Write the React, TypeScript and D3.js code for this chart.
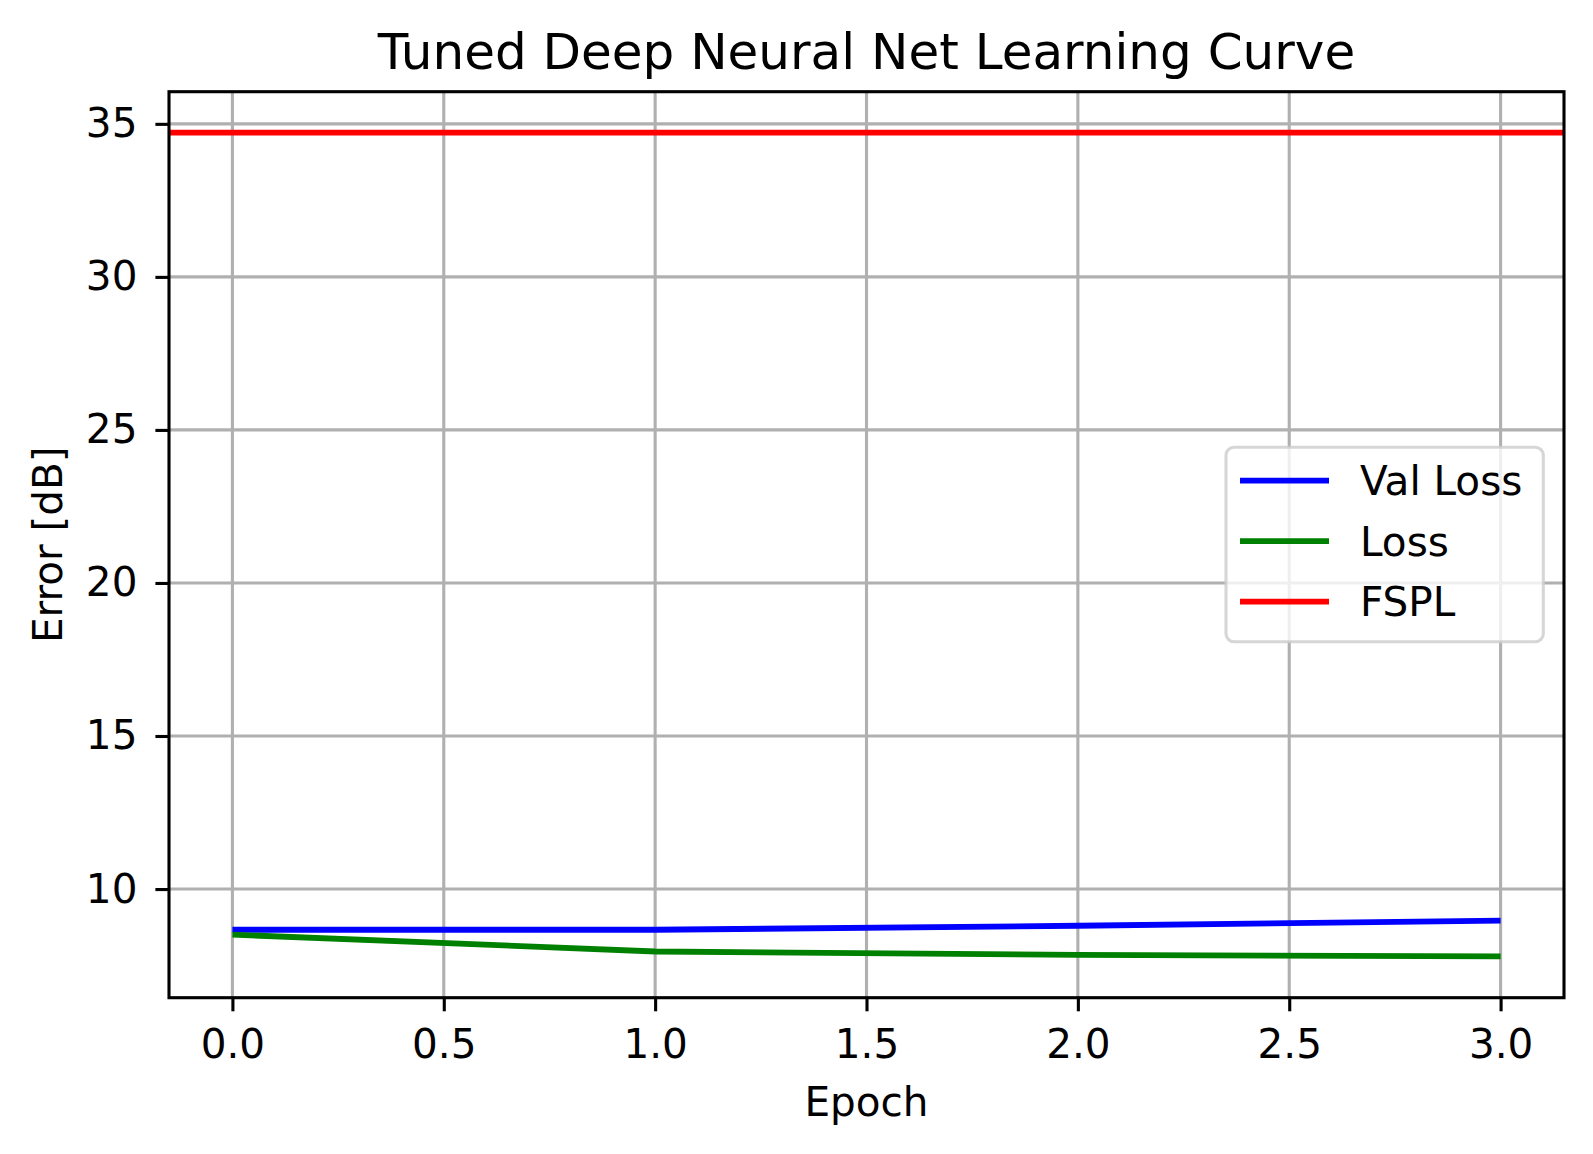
import * as d3 from "d3";
import React, { useEffect, useRef } from "react";

// data
const epochs = [0, 1, 2, 3];
const valLoss = [8.67, 8.67, 8.8, 8.97];
const loss = [8.51, 7.96, 7.85, 7.8];
const fspl = 34.71;

const xTicks = [0, 0.5, 1, 1.5, 2, 2.5, 3];
const yTicks = [10, 15, 20, 25, 30, 35];
const legendLabels = ["Val Loss", "Loss", "FSPL"];
const legendColors = ["#0000ff", "#008000", "#ff0000"];

const FONT = "DejaVu Sans, sans-serif";
const FS = 40.5;

const App = (): JSX.Element => {
	const svgRef = useRef(null);
	useEffect(() => {
		const W = 1593,
			H = 1154;
		const margin = { top: 91.7, right: W - 1564, bottom: H - 997.7, left: 169 };

		const svg = d3.select(svgRef.current).append("g");

		const x = d3.scaleLinear().domain([-0.15, 3.15]).range([margin.left, W - margin.right]);
		const y = d3.scaleLinear().domain([6.45, 36.05]).range([H - margin.bottom, margin.top]);

		svg.append("rect").attr("width", W).attr("height", H).attr("fill", "#fff");

		// grid
		const grid = svg.append("g").attr("stroke", "#b0b0b0").attr("stroke-width", 3.1);
		grid.selectAll("line.gx")
			.data(xTicks)
			.join("line")
			.attr("x1", (d) => x(d))
			.attr("x2", (d) => x(d))
			.attr("y1", margin.top)
			.attr("y2", H - margin.bottom);
		grid.selectAll("line.gy")
			.data(yTicks)
			.join("line")
			.attr("class", "gy")
			.attr("x1", margin.left)
			.attr("x2", W - margin.right)
			.attr("y1", (d) => y(d))
			.attr("y2", (d) => y(d));

		// series
		const line = d3
			.line<number>()
			.x((_, i) => x(epochs[i]))
			.y((d) => y(d));
		const plot = svg.append("g");
		plot.append("path")
			.attr("d", line(valLoss))
			.attr("fill", "none")
			.attr("stroke", legendColors[0])
			.attr("stroke-width", 5.8);
		plot.append("path")
			.attr("d", line(loss))
			.attr("fill", "none")
			.attr("stroke", legendColors[1])
			.attr("stroke-width", 5.8);
		plot.append("line")
			.attr("x1", margin.left)
			.attr("x2", W - margin.right)
			.attr("y1", y(fspl))
			.attr("y2", y(fspl))
			.attr("stroke", legendColors[2])
			.attr("stroke-width", 5.8);

		// x axis
		const xAxis = svg
			.append("g")
			.attr("transform", `translate(0, ${H - margin.bottom})`)
			.call(
				d3
					.axisBottom(x)
					.tickValues(xTicks)
					.tickFormat(d3.format(".1f"))
					.tickSize(13.6)
					.tickPadding(18)
			);
		xAxis.select(".domain").remove();
		xAxis.selectAll(".tick line").attr("stroke", "#000").attr("stroke-width", 3.1);
		xAxis.selectAll("text")
			.attr("font-family", FONT)
			.attr("font-size", FS)
			.attr("fill", "#000");

		// y axis
		const yAxis = svg
			.append("g")
			.attr("transform", `translate(${margin.left}, 0)`)
			.call(d3.axisLeft(y).tickValues(yTicks).tickSize(13.6).tickPadding(18));
		yAxis.select(".domain").remove();
		yAxis.selectAll(".tick line").attr("stroke", "#000").attr("stroke-width", 3.1);
		yAxis.selectAll("text")
			.attr("font-family", FONT)
			.attr("font-size", FS)
			.attr("fill", "#000");

		// frame
		svg.append("rect")
			.attr("x", margin.left)
			.attr("y", margin.top)
			.attr("width", W - margin.left - margin.right)
			.attr("height", H - margin.top - margin.bottom)
			.attr("fill", "none")
			.attr("stroke", "#000")
			.attr("stroke-width", 3.1);

		// labels
		svg.append("text")
			.attr("x", (margin.left + W - margin.right) / 2)
			.attr("y", 69)
			.attr("text-anchor", "middle")
			.attr("font-family", FONT)
			.attr("font-size", 50)
			.text("Tuned Deep Neural Net Learning Curve");
		svg.append("text")
			.attr("x", (margin.left + W - margin.right) / 2)
			.attr("y", 1116)
			.attr("text-anchor", "middle")
			.attr("font-family", FONT)
			.attr("font-size", FS)
			.text("Epoch");
		svg.append("text")
			.attr("transform", `translate(62, ${(margin.top + H - margin.bottom) / 2}) rotate(-90)`)
			.attr("text-anchor", "middle")
			.attr("font-family", FONT)
			.attr("font-size", FS)
			.text("Error [dB]");

		// legend
		const legend = svg.append("g");
		legend.append("rect")
			.attr("x", 1226)
			.attr("y", 447.3)
			.attr("width", 1543.3 - 1226)
			.attr("height", 641.7 - 447.3)
			.attr("rx", 8)
			.attr("fill", "#fff")
			.attr("fill-opacity", 0.8)
			.attr("stroke", "#cccccc")
			.attr("stroke-opacity", 0.8)
			.attr("stroke-width", 3.1);
		const rows = legend
			.selectAll("g.row")
			.data(legendLabels)
			.join("g")
			.attr("transform", (_, i) => `translate(0, ${480.7 + i * 60.5})`);
		rows.append("line")
			.attr("x1", 1240)
			.attr("x2", 1329)
			.attr("stroke", (_, i) => legendColors[i])
			.attr("stroke-width", 5.8);
		rows.append("text")
			.attr("x", 1360)
			.attr("y", 14.5)
			.attr("font-family", FONT)
			.attr("font-size", FS)
			.text((d) => d);

		return () => {
			svg.remove();
		};
	}, []);

	return (
		<svg
			width={1593}
			height={1154}
			ref={svgRef}
			style={{ position: "absolute", left: 0, top: 0 }}
		/>
	);
};

export default App;
